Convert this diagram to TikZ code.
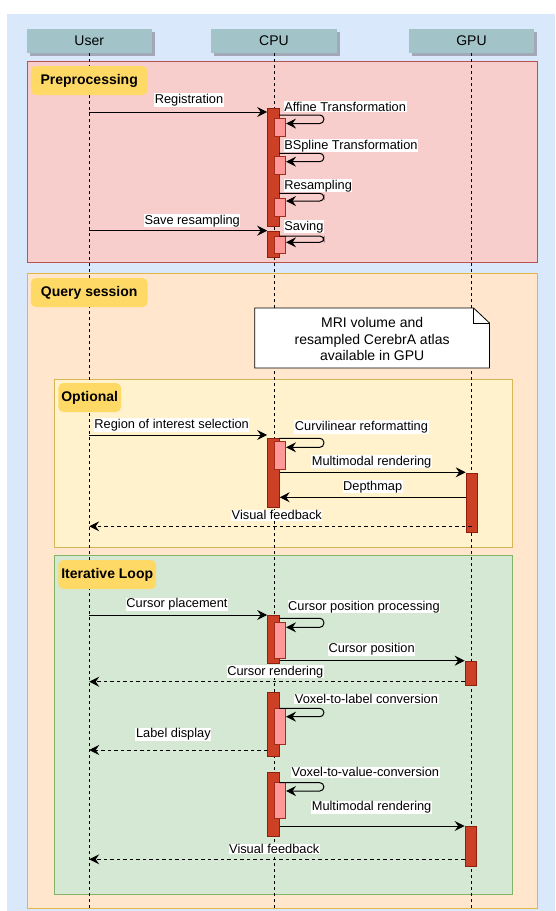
\documentclass[tikz,border=0pt]{standalone}
\usepackage{fontspec}
\setmainfont{Liberation Sans}
\usepackage{xcolor}
\usetikzlibrary{arrows.meta,positioning,calc,shadows}

\definecolor{bgblue}{HTML}{DAE8FC}
\definecolor{headfill}{HTML}{A2C4C9}
\definecolor{headshadow}{HTML}{A3A8B8}
\definecolor{prefill}{HTML}{F8CECC}
\definecolor{preline}{HTML}{B85450}
\definecolor{qfill}{HTML}{FFE6CC}
\definecolor{qline}{HTML}{E3B448}
\definecolor{optfill}{HTML}{FFF2CC}
\definecolor{optline}{HTML}{D6B656}
\definecolor{loopfill}{HTML}{D5E8D4}
\definecolor{loopline}{HTML}{82B366}
\definecolor{tagfill}{HTML}{FFD966}
\definecolor{actfill}{HTML}{CC4125}
\definecolor{actline}{HTML}{8E1F0F}
\definecolor{selffill}{HTML}{FF9999}
\definecolor{selfline}{HTML}{A52A1A}

\begin{document}
\begin{tikzpicture}[x=1.0618pt, y=-1pt,
  head/.style={rectangle, fill=headfill, minimum width=125.3pt, minimum height=24pt,
               inner sep=0pt, font=\fontsize{14}{16}\selectfont,
               drop shadow={shadow xshift=3pt, shadow yshift=-3pt, fill=headshadow, opacity=1}},
  tag/.style={rectangle, rounded corners=5pt, fill=tagfill, minimum height=29pt,
              inner sep=0pt, font=\fontsize{14}{16}\selectfont\bfseries},
  life/.style={dash pattern=on 3pt off 3pt, line width=0.8pt},
  actbar/.style={rectangle, draw=actline, fill=actfill, line width=0.8pt,
                 minimum width=11.7pt, inner sep=0pt},
  selfbox/.style={rectangle, draw=selfline, fill=selffill, line width=0.8pt,
                  minimum width=11.7pt, inner sep=0pt},
  arr/.style={-{Stealth[length=10pt, width=10pt, inset=3.5pt]}, line width=1pt},
  reply/.style={arr, dash pattern=on 3.5pt off 3pt},
  selfarr/.style={arr, rounded corners=4pt},
  lbl/.style={fill=white, inner sep=0.6pt, font=\fontsize{12.8}{15}\selectfont},
  notetext/.style={align=center, inner sep=0pt, font=\fontsize{14}{16.7}\selectfont}
]
\useasboundingbox (0,0) rectangle (522.7,911);
\fill[bgblue] (6.7,14) rectangle (522.7,911);

\node[head] (user) at (84,41) {User};
\node[head] (cpu) at (258,41) {CPU};
\node[head] (gpu) at (444,41) {GPU};
\coordinate (bottom) at (0,911);

\filldraw[fill=prefill, draw=preline, line width=0.8pt] (25.7,61.7) rectangle (506,262);
\filldraw[fill=qfill, draw=qline, line width=0.8pt] (25.7,273.7) rectangle (506,908.7);
\filldraw[fill=optfill, draw=optline, line width=0.8pt] (51,379) rectangle (483,547.5);
\filldraw[fill=loopfill, draw=loopline, line width=0.8pt] (51,555.7) rectangle (483,894);

\draw[life] (user.south) -- (user.south |- bottom);
\draw[life] (cpu.south) -- (cpu.south |- bottom);
\draw[life] (gpu.south) -- (gpu.south |- bottom);

\node[tag, minimum width=116.8pt] (tpre) at (84,80.5) {Preprocessing};
\node[tag, minimum width=116.8pt] (tquery) at (84,292.5) {Query session};
\node[tag, minimum width=62.7pt] (topt) at (84.5,397.5) {Optional};
\node[tag, minimum width=97.7pt] (tloop) at (101,574.5) {Iterative Loop};

\filldraw[fill=white, draw=black, line width=0.8pt]
  (240,308) -- (446,308) -- (461,323) -- (461,368) -- (240,368) -- cycle;
\draw[line width=0.8pt] (446,308) -- (446,323) -- (461,323);
\node[notetext] (note) at (350.5,339) {MRI volume and\\resampled CerebrA atlas\\available in GPU};

\node[actbar, minimum height=118pt] (a1) at (257.5,167.7) {};
\node[actbar, minimum height=25.6pt] (a2) at (257.5,244.5) {};
\node[actbar, minimum height=69pt] (a3) at (257.5,472.8) {};
\node[actbar, minimum height=48pt] (a4) at (257.5,639) {};
\node[actbar, minimum height=63.3pt] (a5) at (257.5,724.3) {};
\node[actbar, minimum height=63.7pt] (a6) at (257.5,804.2) {};
\node[actbar, minimum height=59pt] (g1) at (444.5,502.8) {};
\node[actbar, minimum height=23.3pt] (g2) at (443.5,673.3) {};
\node[actbar, minimum height=40.7pt] (g3) at (443.5,846.3) {};

\foreach \n/\yc/\h/\ys/\ye in {1/127/18/115/123.5, 2/165.5/17.6/153.3/161.7,
    3/207/18/193.3/201, 4/244.7/17.3/236/242.3, 5/455.5/27.6/438.3/447.3,
    6/640.3/36/618.3/627.3, 7/726.2/35.7/708.3/716.7, 8/800.2/35.7/782.7/791}
{
  \node[selfbox, minimum height=\h pt] (p\n) at (263.5,\yc) {};
  \draw[selfarr] (263,\ys) -- (305,\ys) |- (p\n.east |- 0,\ye);
}

\draw[arr] (user |- 0,112) -- (a1.west |- 0,112);
\draw[arr] (user |- 0,230.7) -- (a2.west |- 0,230.7);
\draw[arr] (user |- 0,435) -- (a3.west |- 0,435);
\draw[arr] (a3.east |- 0,472.3) -- (g1.west |- 0,472.3);
\draw[arr] (g1.west |- 0,497.3) -- (a3.east |- 0,497.3);
\draw[reply] (g1 |- 0,526.3) -- (user |- 0,526.3);
\draw[arr] (user |- 0,615) -- (a4.west |- 0,615);
\draw[arr] (a4.east |- 0,660.7) -- (g2.west |- 0,660.7);
\draw[reply] (g2.west |- 0,681.7) -- (user |- 0,681.7);
\draw[reply] (a5.west |- 0,750) -- (user |- 0,750);
\draw[arr] (a6.east |- 0,826) -- (g3.west |- 0,826);
\draw[reply] (g3.west |- 0,859.3) -- (user |- 0,859.3);

\node[lbl] (l1) at (178,100) {Registration};
\node[lbl] (l2) at (181,220.7) {Save resampling};
\node[lbl] (l3) at (161.7,425) {Region of interest selection};
\node[lbl] (l4) at (350,461.7) {Multimodal rendering};
\node[lbl] (l5) at (351,486.7) {Depthmap};
\node[lbl] (l6) at (260.7,515.3) {Visual feedback};
\node[lbl] (l7) at (166.7,604.3) {Cursor placement};
\node[lbl] (l8) at (350,649.3) {Cursor position};
\node[lbl] (l9) at (259.3,671.7) {Cursor rendering};
\node[lbl] (l10) at (163.3,734.3) {Label display};
\node[lbl] (l11) at (350,807.3) {Multimodal rendering};
\node[lbl] (l12) at (258.3,849) {Visual feedback};

\node[lbl, anchor=west] (s1) at (267,106.7) {Affine Transformation};
\node[lbl, anchor=west] (s2) at (267,145.7) {BSpline Transformation};
\node[lbl, anchor=west] (s3) at (267,185.7) {Resampling};
\node[lbl, anchor=west] (s4) at (267,226.7) {Saving};
\node[lbl, anchor=west] (s5) at (277,427) {Curvilinear reformatting};
\node[lbl, anchor=west] (s6) at (270.7,606.7) {Cursor position processing};
\node[lbl, anchor=west] (s7) at (277,699) {Voxel-to-label conversion};
\node[lbl, anchor=west] (s8) at (274,772.3) {Voxel-to-value-conversion};
\end{tikzpicture}
\end{document}
